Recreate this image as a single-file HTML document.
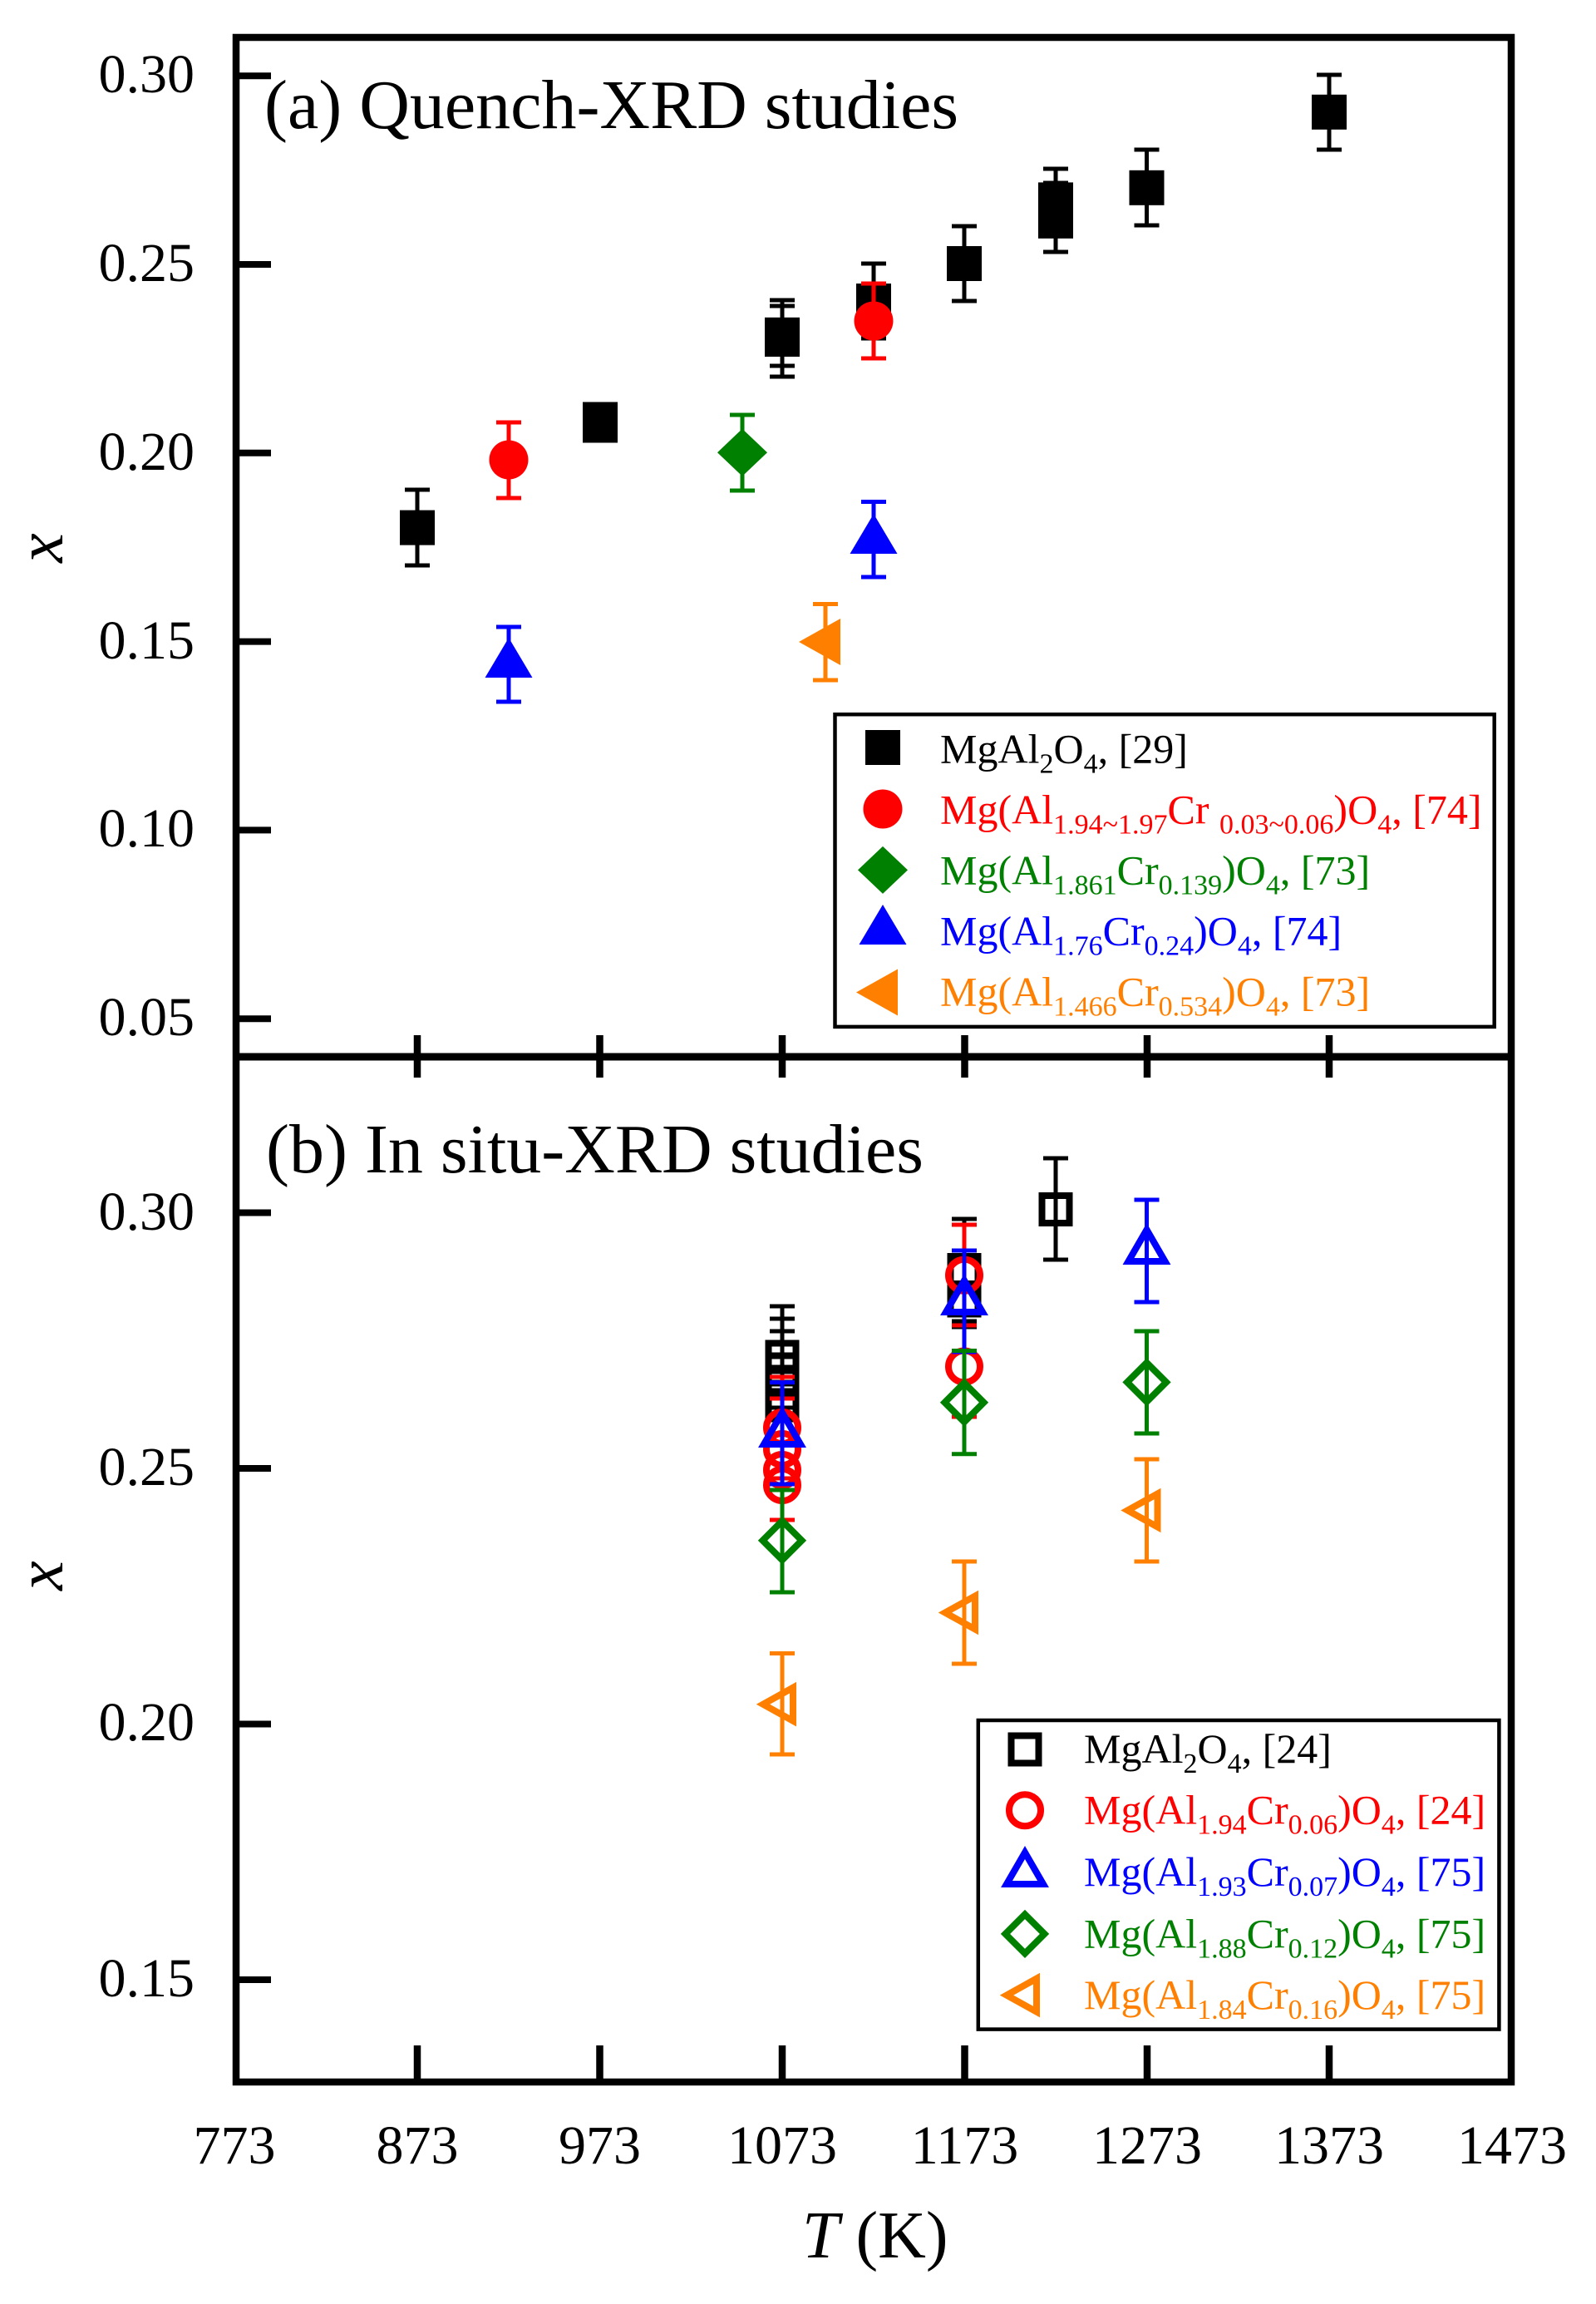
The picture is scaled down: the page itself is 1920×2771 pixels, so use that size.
<!DOCTYPE html>
<html><head><meta charset="utf-8"><style>
html,body{margin:0;padding:0;background:#fff;}
svg{display:block;}
text{font-family:"Liberation Serif","DejaVu Serif",serif;}
</style></head><body>
<svg width="1920" height="2771" viewBox="0 0 1920 2771" xmlns="http://www.w3.org/2000/svg">
<defs>
<rect id="fsq" x="-21" y="-21" width="42" height="42"/>
<circle id="fci" r="23.5"/>
<polygon id="fdi" points="0,-28.5 30,0 0,28.5 -30,0"/>
<polygon id="ftri" points="0,-32 28.5,16 -28.5,16"/>
<polygon id="fltri" points="-33,0 17,-28 17,28"/>
<rect id="osq" x="-16.5" y="-16.5" width="33" height="33" fill="none" stroke-width="8"/>
<circle id="oci" r="19" fill="none" stroke-width="8"/>
<polygon id="otri" points="0,-25 22,13 -22,13" fill="none" stroke-width="8" stroke-linejoin="miter"/>
<polygon id="odi" points="0,-23.5 23.5,0 0,23.5 -23.5,0" fill="none" stroke-width="8" stroke-linejoin="miter"/>
<polygon id="oltri" points="-23,0 13,-20 13,20" fill="none" stroke-width="8" stroke-linejoin="miter"/>
</defs>

<!-- frame -->
<rect x="284" y="45" width="1534" height="2459" fill="none" stroke="#000" stroke-width="8.5"/>
<line x1="284" y1="1271" x2="1818" y2="1271" stroke="#000" stroke-width="9"/>

<!-- y ticks -->
<g stroke="#000" stroke-width="8">
<line x1="284" y1="91.2" x2="326" y2="91.2"/>
<line x1="284" y1="318" x2="326" y2="318"/>
<line x1="284" y1="544.8" x2="326" y2="544.8"/>
<line x1="284" y1="771.6" x2="326" y2="771.6"/>
<line x1="284" y1="998.4" x2="326" y2="998.4"/>
<line x1="284" y1="1225.2" x2="326" y2="1225.2"/>
<line x1="284" y1="1458.5" x2="326" y2="1458.5"/>
<line x1="284" y1="1766" x2="326" y2="1766"/>
<line x1="284" y1="2073.5" x2="326" y2="2073.5"/>
<line x1="284" y1="2381" x2="326" y2="2381"/>
</g>
<!-- x ticks at divider and bottom -->
<g stroke="#000" stroke-width="8.5">
<line x1="502" y1="1245" x2="502" y2="1296"/>
<line x1="721.5" y1="1245" x2="721.5" y2="1296"/>
<line x1="941" y1="1245" x2="941" y2="1296"/>
<line x1="1160.5" y1="1245" x2="1160.5" y2="1296"/>
<line x1="1380" y1="1245" x2="1380" y2="1296"/>
<line x1="1599" y1="1245" x2="1599" y2="1296"/>
<line x1="502" y1="2460" x2="502" y2="2504"/>
<line x1="721.5" y1="2460" x2="721.5" y2="2504"/>
<line x1="941" y1="2460" x2="941" y2="2504"/>
<line x1="1160.5" y1="2460" x2="1160.5" y2="2504"/>
<line x1="1380" y1="2460" x2="1380" y2="2504"/>
<line x1="1599" y1="2460" x2="1599" y2="2504"/>
</g>

<!-- tick labels -->
<g font-size="66" fill="#000" text-anchor="end">
<text x="234" y="111">0.30</text>
<text x="234" y="338">0.25</text>
<text x="234" y="565">0.20</text>
<text x="234" y="792">0.15</text>
<text x="234" y="1018">0.10</text>
<text x="234" y="1245">0.05</text>
<text x="234" y="1479">0.30</text>
<text x="234" y="1786">0.25</text>
<text x="234" y="2093">0.20</text>
<text x="234" y="2401">0.15</text>
</g>
<g font-size="66" fill="#000" text-anchor="middle">
<text x="282" y="2602">773</text>
<text x="502" y="2602">873</text>
<text x="721.5" y="2602">973</text>
<text x="941" y="2602">1073</text>
<text x="1160.5" y="2602">1173</text>
<text x="1380" y="2602">1273</text>
<text x="1599" y="2602">1373</text>
<text x="1819" y="2602">1473</text>
</g>

<!-- axis titles -->
<text x="965" y="2715" font-size="80" fill="#000"><tspan font-style="italic">T</tspan> (K)</text>
<text x="75" y="659" font-size="80" font-style="italic" text-anchor="middle" transform="rotate(-90 75 659)">x</text>
<text x="75" y="1895" font-size="80" font-style="italic" text-anchor="middle" transform="rotate(-90 75 1895)">x</text>

<!-- panel titles -->
<text x="318" y="154" font-size="84" fill="#000">(a) Quench-XRD studies</text>
<text x="320" y="1410" font-size="84" fill="#000">(b) In situ-XRD studies</text>

<!-- ===== UPPER PANEL DATA ===== -->
<g stroke="#000" stroke-width="5" fill="none">
<line x1="502" y1="589" x2="502" y2="680"/><line x1="487" y1="589" x2="517" y2="589"/><line x1="487" y1="680" x2="517" y2="680"/>
<line x1="941" y1="361" x2="941" y2="453"/><line x1="926" y1="361" x2="956" y2="361"/><line x1="926" y1="368" x2="956" y2="368"/><line x1="926" y1="440" x2="956" y2="440"/><line x1="926" y1="453" x2="956" y2="453"/>
<line x1="1051" y1="317" x2="1051" y2="407"/><line x1="1036" y1="317" x2="1066" y2="317"/><line x1="1036" y1="407" x2="1066" y2="407"/>
<line x1="1160" y1="272" x2="1160" y2="362"/><line x1="1145" y1="272" x2="1175" y2="272"/><line x1="1145" y1="362" x2="1175" y2="362"/>
<line x1="1270" y1="203" x2="1270" y2="303"/><line x1="1255" y1="203" x2="1285" y2="203"/><line x1="1255" y1="220" x2="1285" y2="220"/><line x1="1255" y1="284" x2="1285" y2="284"/><line x1="1255" y1="303" x2="1285" y2="303"/>
<line x1="1379.5" y1="180" x2="1379.5" y2="271"/><line x1="1364.5" y1="180" x2="1394.5" y2="180"/><line x1="1364.5" y1="271" x2="1394.5" y2="271"/>
<line x1="1599" y1="90" x2="1599" y2="180"/><line x1="1584" y1="90" x2="1614" y2="90"/><line x1="1584" y1="180" x2="1614" y2="180"/>
</g>
<g fill="#000">
<use href="#fsq" x="502" y="634.6"/>
<use href="#fsq" x="722" y="504.5"/><use href="#fsq" x="722" y="511.5"/>
<use href="#fsq" x="941" y="402.8"/><use href="#fsq" x="941" y="408"/>
<use href="#fsq" x="1051" y="362"/>
<use href="#fsq" x="1160" y="317"/>
<use href="#fsq" x="1270" y="240.4"/><use href="#fsq" x="1270" y="265.8"/>
<use href="#fsq" x="1379.5" y="225.8"/>
<use href="#fsq" x="1599" y="134.8"/>
</g>
<g stroke="#ff0000" stroke-width="5">
<line x1="612" y1="508" x2="612" y2="599"/><line x1="597" y1="508" x2="627" y2="508"/><line x1="597" y1="599" x2="627" y2="599"/>
<line x1="1051" y1="341" x2="1051" y2="431"/><line x1="1036" y1="341" x2="1066" y2="341"/><line x1="1036" y1="431" x2="1066" y2="431"/>
</g>
<g fill="#ff0000">
<use href="#fci" x="612" y="553"/>
<use href="#fci" x="1051" y="386"/>
</g>
<g stroke="#008000" stroke-width="5">
<line x1="893" y1="499" x2="893" y2="590"/><line x1="878" y1="499" x2="908" y2="499"/><line x1="878" y1="590" x2="908" y2="590"/>
</g>
<use href="#fdi" x="893" y="544.2" fill="#008000"/>
<g stroke="#0000ff" stroke-width="5">
<line x1="612" y1="754" x2="612" y2="844"/><line x1="597" y1="754" x2="627" y2="754"/><line x1="597" y1="844" x2="627" y2="844"/>
<line x1="1051" y1="603.5" x2="1051" y2="694"/><line x1="1036" y1="603.5" x2="1066" y2="603.5"/><line x1="1036" y1="694" x2="1066" y2="694"/>
</g>
<g fill="#0000ff">
<use href="#ftri" x="612" y="799"/>
<use href="#ftri" x="1051" y="650"/>
</g>
<g stroke="#ff8000" stroke-width="5">
<line x1="993" y1="726.5" x2="993" y2="818"/><line x1="978" y1="726.5" x2="1008" y2="726.5"/><line x1="978" y1="818" x2="1008" y2="818"/>
</g>
<use href="#fltri" x="994" y="772" fill="#ff8000"/>

<!-- legend a -->
<rect x="1004.5" y="859.2" width="793.2" height="375.7" fill="#fff" stroke="#000" stroke-width="4.5"/>
<use href="#fsq" x="1062" y="899" fill="#000"/>
<use href="#fci" x="1062" y="973" fill="#ff0000"/>
<use href="#fdi" x="1062" y="1046.4" fill="#008000"/>
<use href="#ftri" x="1062" y="1120" fill="#0000ff"/>
<use href="#fltri" x="1063" y="1193.5" fill="#ff8000"/>
<g font-size="50">
<text x="1131" y="917.7" fill="#000">MgAl<tspan font-size="34" dy="12">2</tspan><tspan dy="-12">O</tspan><tspan font-size="34" dy="12">4</tspan><tspan dy="-12">, [29]</tspan></text>
<text x="1131" y="990.7" fill="#ff0000">Mg(Al<tspan font-size="34" dy="12">1.94~1.97</tspan><tspan dy="-12">Cr </tspan><tspan font-size="34" dy="12">0.03~0.06</tspan><tspan dy="-12">)O</tspan><tspan font-size="34" dy="12">4</tspan><tspan dy="-12">, [74]</tspan></text>
<text x="1131" y="1063.7" fill="#008000">Mg(Al<tspan font-size="34" dy="12">1.861</tspan><tspan dy="-12">Cr</tspan><tspan font-size="34" dy="12">0.139</tspan><tspan dy="-12">)O</tspan><tspan font-size="34" dy="12">4</tspan><tspan dy="-12">, [73]</tspan></text>
<text x="1131" y="1136.7" fill="#0000ff">Mg(Al<tspan font-size="34" dy="12">1.76</tspan><tspan dy="-12">Cr</tspan><tspan font-size="34" dy="12">0.24</tspan><tspan dy="-12">)O</tspan><tspan font-size="34" dy="12">4</tspan><tspan dy="-12">, [74]</tspan></text>
<text x="1131" y="1209.7" fill="#ff8000">Mg(Al<tspan font-size="34" dy="12">1.466</tspan><tspan dy="-12">Cr</tspan><tspan font-size="34" dy="12">0.534</tspan><tspan dy="-12">)O</tspan><tspan font-size="34" dy="12">4</tspan><tspan dy="-12">, [73]</tspan></text>
</g>

<!-- ===== LOWER PANEL DATA ===== -->
<g stroke="#000" stroke-width="5">
<line x1="941" y1="1571" x2="941" y2="1751"/>
<line x1="926" y1="1571" x2="956" y2="1571"/><line x1="926" y1="1586" x2="956" y2="1586"/><line x1="926" y1="1601" x2="956" y2="1601"/><line x1="926" y1="1629" x2="956" y2="1629"/>
<line x1="926" y1="1693" x2="956" y2="1693"/><line x1="926" y1="1708" x2="956" y2="1708"/>
<line x1="1160" y1="1466" x2="1160" y2="1596"/><line x1="1145" y1="1466" x2="1175" y2="1466"/><line x1="1145" y1="1589" x2="1175" y2="1589"/><line x1="1145" y1="1596" x2="1175" y2="1596"/>
<line x1="1270" y1="1393" x2="1270" y2="1515"/><line x1="1255" y1="1393" x2="1285" y2="1393"/><line x1="1255" y1="1515" x2="1285" y2="1515"/>
</g>
<g stroke="#000">
<use href="#osq" x="941" y="1632"/><use href="#osq" x="941" y="1647"/><use href="#osq" x="941" y="1662"/><use href="#osq" x="941" y="1690"/>
<use href="#osq" x="1160" y="1527.5"/><use href="#osq" x="1160" y="1564"/>
<use href="#osq" x="1270" y="1454.5"/>
</g>
<g stroke="#ff0000" stroke-width="5">
<line x1="941" y1="1656" x2="941" y2="1829"/>
<line x1="926" y1="1656" x2="956" y2="1656"/><line x1="926" y1="1682" x2="956" y2="1682"/><line x1="926" y1="1778" x2="956" y2="1778"/><line x1="926" y1="1828" x2="956" y2="1828"/>
<line x1="1160" y1="1473" x2="1160" y2="1704"/><line x1="1145" y1="1473" x2="1175" y2="1473"/><line x1="1145" y1="1594" x2="1175" y2="1594"/><line x1="1145" y1="1704" x2="1175" y2="1704"/>
</g>
<g stroke="#ff0000">
<use href="#oci" x="941" y="1717"/><use href="#oci" x="941" y="1743"/><use href="#oci" x="941" y="1768"/><use href="#oci" x="941" y="1786"/>
<use href="#oci" x="1160" y="1533.7"/><use href="#oci" x="1160" y="1643.5"/>
</g>
<g stroke="#0000ff" stroke-width="5">
<line x1="941" y1="1662.6" x2="941" y2="1785"/><line x1="926" y1="1662.6" x2="956" y2="1662.6"/><line x1="926" y1="1785" x2="956" y2="1785"/>
<line x1="1160" y1="1504" x2="1160" y2="1626"/><line x1="1145" y1="1504" x2="1175" y2="1504"/><line x1="1145" y1="1626" x2="1175" y2="1626"/>
<line x1="1379.5" y1="1443" x2="1379.5" y2="1566"/><line x1="1364.5" y1="1443" x2="1394.5" y2="1443"/><line x1="1364.5" y1="1566" x2="1394.5" y2="1566"/>
</g>
<g stroke="#0000ff">
<use href="#otri" x="941" y="1724"/>
<use href="#otri" x="1160" y="1565"/>
<use href="#otri" x="1379.5" y="1504"/>
</g>
<g stroke="#008000" stroke-width="5">
<line x1="941" y1="1792" x2="941" y2="1915"/><line x1="926" y1="1792" x2="956" y2="1792"/><line x1="926" y1="1915" x2="956" y2="1915"/>
<line x1="1160" y1="1624.5" x2="1160" y2="1748.7"/><line x1="1145" y1="1624.5" x2="1175" y2="1624.5"/><line x1="1145" y1="1748.7" x2="1175" y2="1748.7"/>
<line x1="1379.5" y1="1601" x2="1379.5" y2="1724"/><line x1="1364.5" y1="1601" x2="1394.5" y2="1601"/><line x1="1364.5" y1="1724" x2="1394.5" y2="1724"/>
</g>
<g stroke="#008000">
<use href="#odi" x="941" y="1852.7"/>
<use href="#odi" x="1160" y="1686.7"/>
<use href="#odi" x="1379.5" y="1662.4"/>
</g>
<g stroke="#ff8000" stroke-width="5">
<line x1="941" y1="1988.5" x2="941" y2="2110"/><line x1="926" y1="1988.5" x2="956" y2="1988.5"/><line x1="926" y1="2110" x2="956" y2="2110"/>
<line x1="1160" y1="1878" x2="1160" y2="2001"/><line x1="1145" y1="1878" x2="1175" y2="1878"/><line x1="1145" y1="2001" x2="1175" y2="2001"/>
<line x1="1379.5" y1="1755" x2="1379.5" y2="1878"/><line x1="1364.5" y1="1755" x2="1394.5" y2="1755"/><line x1="1364.5" y1="1878" x2="1394.5" y2="1878"/>
</g>
<g stroke="#ff8000">
<use href="#oltri" x="941" y="2049.7"/>
<use href="#oltri" x="1160" y="1939.5"/>
<use href="#oltri" x="1379.5" y="1816.5"/>
</g>

<!-- legend b -->
<rect x="1176.8" y="2069" width="626.6" height="371.6" fill="#fff" stroke="#000" stroke-width="4.5"/>
<use href="#osq" x="1233" y="2104" stroke="#000"/>
<use href="#oci" x="1233" y="2177.2" stroke="#ff0000"/>
<use href="#otri" x="1233" y="2253" stroke="#0000ff"/>
<use href="#odi" x="1233" y="2325.9" stroke="#008000"/>
<use href="#oltri" x="1234" y="2399.6" stroke="#ff8000"/>
<g font-size="50">
<text x="1304" y="2120" fill="#000">MgAl<tspan font-size="34" dy="12">2</tspan><tspan dy="-12">O</tspan><tspan font-size="34" dy="12">4</tspan><tspan dy="-12">, [24]</tspan></text>
<text x="1304" y="2193.7" fill="#ff0000">Mg(Al<tspan font-size="34" dy="12">1.94</tspan><tspan dy="-12">Cr</tspan><tspan font-size="34" dy="12">0.06</tspan><tspan dy="-12">)O</tspan><tspan font-size="34" dy="12">4</tspan><tspan dy="-12">, [24]</tspan></text>
<text x="1304" y="2268" fill="#0000ff">Mg(Al<tspan font-size="34" dy="12">1.93</tspan><tspan dy="-12">Cr</tspan><tspan font-size="34" dy="12">0.07</tspan><tspan dy="-12">)O</tspan><tspan font-size="34" dy="12">4</tspan><tspan dy="-12">, [75]</tspan></text>
<text x="1304" y="2342.4" fill="#008000">Mg(Al<tspan font-size="34" dy="12">1.88</tspan><tspan dy="-12">Cr</tspan><tspan font-size="34" dy="12">0.12</tspan><tspan dy="-12">)O</tspan><tspan font-size="34" dy="12">4</tspan><tspan dy="-12">, [75]</tspan></text>
<text x="1304" y="2416" fill="#ff8000">Mg(Al<tspan font-size="34" dy="12">1.84</tspan><tspan dy="-12">Cr</tspan><tspan font-size="34" dy="12">0.16</tspan><tspan dy="-12">)O</tspan><tspan font-size="34" dy="12">4</tspan><tspan dy="-12">, [75]</tspan></text>
</g>
</svg>
</body></html>
